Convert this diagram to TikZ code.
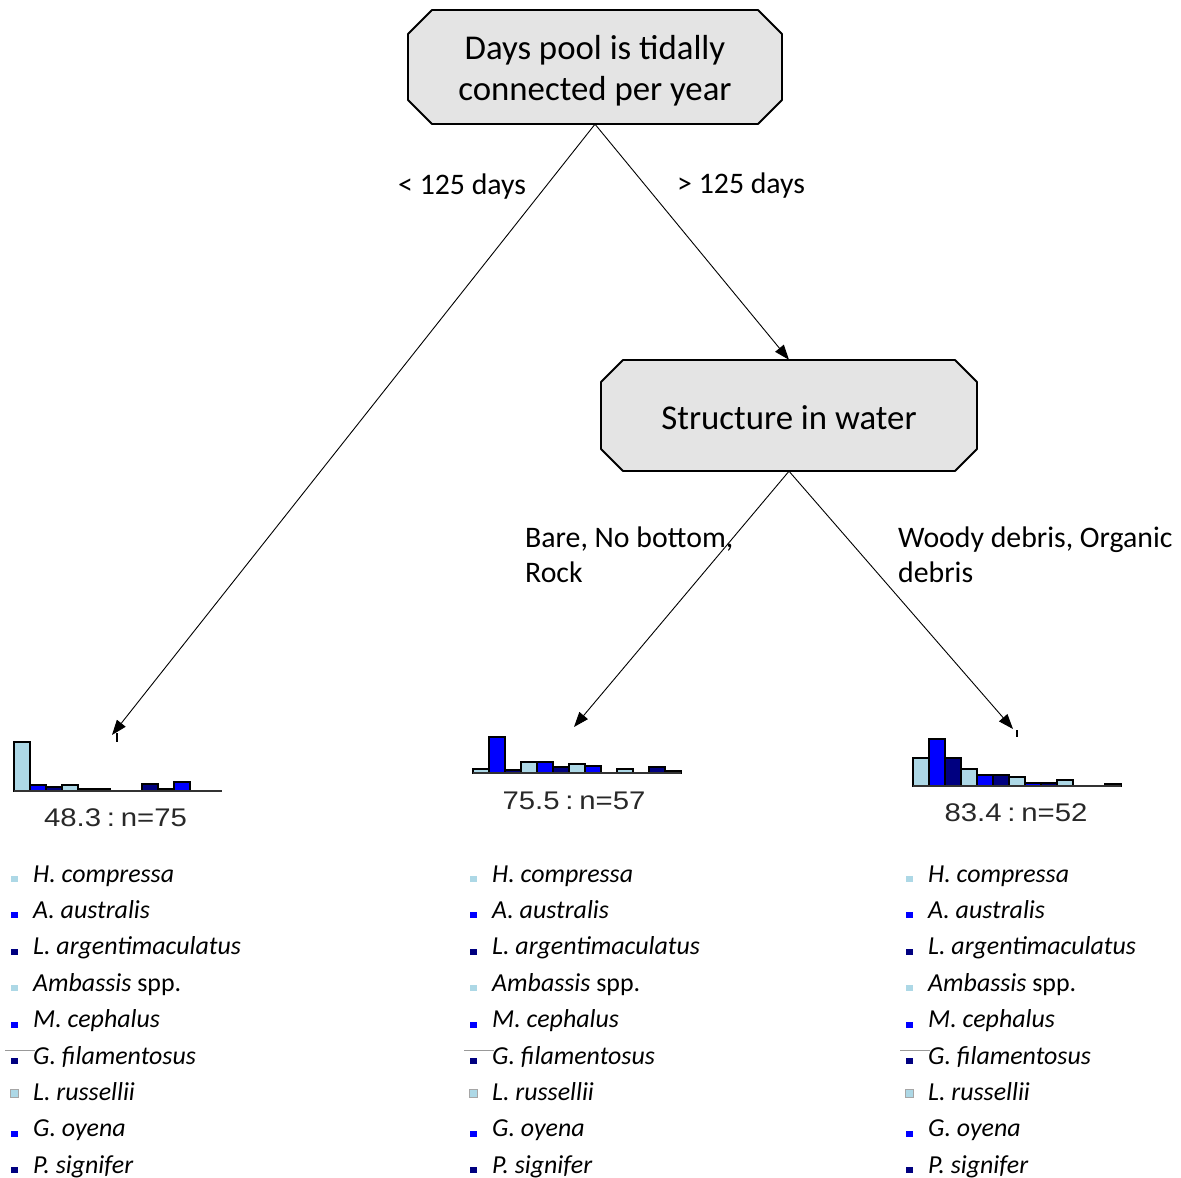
\documentclass[tikz,border=0pt]{standalone}
\usepackage{fontspec}
\usepackage{graphicx}
\setmainfont{Carlito}
\newfontfamily\histfont{Liberation Sans}
\usetikzlibrary{arrows.meta,calc}

\definecolor{lb}{RGB}{173,216,230}
\definecolor{bl}{RGB}{0,0,255}
\definecolor{nv}{RGB}{0,0,128}
\definecolor{boxfill}{RGB}{228,228,228}
\definecolor{histtext}{RGB}{40,40,40}

\tikzset{
  splitlabel/.style={font=\fontsize{34.8}{41}\selectfont, align=center, inner sep=0pt},
  splitframe/.style={inner sep=0pt},
  branch/.style={line width=0.9pt, -{Triangle[length=15pt,width=11pt]}},
  edgetext/.style={font=\fontsize{29.8}{35}\selectfont, anchor=base west, align=left, inner sep=0pt},
  legtext/.style={font=\fontsize{25.9}{30}\selectfont\itshape, anchor=base west, inner sep=0pt},
  histlabel/.style={font=\histfont\fontsize{25.5}{30}\selectfont, text=histtext, anchor=base, inner sep=0pt},
  bar/.style={draw=black, line width=1.2pt},
  octo/.style={fill=boxfill, draw=black, line width=1.8pt, line join=round},
}

% leaf summary text, widened as in the tree output
\newcommand\leafsum[2]{\scalebox{1.15}[1]{#1\hspace{5pt}:\hspace{5pt}n=#2}}

% octagonal split box: x1 y1 x2 y2 chamfer
\newcommand\octagon[5]{%
  \path[octo] (#1+#5,#2) -- (#3-#5,#2) -- (#3,#2+#5) -- (#3,#4-#5)
    -- (#3-#5,#4) -- (#1+#5,#4) -- (#1,#4-#5) -- (#1,#2+#5) -- cycle;}

% histogram: left x, baseline y, list of height/colour
\newcommand\histo[3]{%
  \foreach \h/\col [count=\i from 0] in {#3} {
    \ifdim\h pt>0pt
      \draw[bar, fill=\col] (#1+16*\i,#2) rectangle ++(16,-\h);
    \fi
  }
  \draw[line width=2.6pt, draw=black!80] (#1,#2) -- ++(208,0);
}

% species legend: marker left x, column tag
\newcommand\legendcol[2]{%
  \foreach \t/\col/\mk [count=\r from 0] in {
      {H. compressa}/lb/0, {A. australis}/bl/0, {L. argentimaculatus}/nv/0,
      {Ambassis {\upshape spp.}}/lb/0, {M. cephalus}/bl/0, {G. filamentosus}/nv/0,
      {L. russellii}/lb/1, {G. oyena}/bl/0, {P. signifer}/nv/0} {
    \ifnum\mk=1
      \filldraw[fill=\col, draw=black!35, line width=0.8pt] (#1-1,882+36.4*\r-3) rectangle ++(8,-8);
    \else
      \fill[\col] (#1-0.5,882+36.4*\r) rectangle ++(7.5,-6);
    \fi
    \node[legtext] (leg#2-\r) at (#1+22,882+36.4*\r) {\t};
  }
  \draw[black!40, line width=0.8pt] (#1-6,1050) -- (#1+24,1050);
}

\begin{document}
\begin{tikzpicture}[x=1pt,y=-1pt]
  \useasboundingbox (0,0) rectangle (1181,1178);
  \fill[white] (0,0) rectangle (1181,1178);

  % split boxes
  \octagon{408}{10}{782}{124}{24}
  \node[splitframe, minimum width=374pt, minimum height=114pt] (root) at (595,67) {};
  \node[splitlabel] (rootText) at (595,71) {Days pool is tidally\\connected per year};
  \octagon{601}{360}{977}{471}{22}
  \node[splitframe, minimum width=376pt, minimum height=111pt] (struct) at (789,415.5) {};
  \node[splitlabel] (structText) at (789,418) {Structure in water};

  % leaf histograms
  \histo{14}{791}{49/lb, 6/bl, 4/nv, 6/lb, 2/bl, 2/nv, 0/lb, 0/bl, 7/nv, 2/lb, 9/bl, 0/nv, 0/lb}
  \histo{473}{773}{4/lb, 36/bl, 3/nv, 11/lb, 11/bl, 6/nv, 9/lb, 7/bl, 0/nv, 4/lb, 0/bl, 6/nv, 2/lb}
  \histo{913}{786}{28/lb, 47/bl, 28/nv, 17/lb, 11/bl, 11/nv, 9/lb, 3/bl, 3/nv, 6/lb, 0/bl, 0/nv, 2/lb}

  \node[histlabel] (leafA) at (115.5,826) {\leafsum{48.3}{75}};
  \node[histlabel] (leafB) at (574,809) {\leafsum{75.5}{57}};
  \node[histlabel] (leafC) at (1016,821) {\leafsum{83.4}{52}};

  % arrow targets above the leaves
  \coordinate (tA) at (112,735);
  \coordinate (tB) at (574,727);
  \coordinate (tC) at (1013,729);
  \draw[line width=1.2pt] (117,733) -- (117,742);
  \draw[line width=1.2pt] (1017,730) -- (1017,737);

  % branches
  \draw[branch] (root.south) -- (tA);
  \draw[branch] (root.south) -- (struct.north);
  \draw[branch] (struct.south) -- (tB);
  \draw[branch] (struct.south) -- (tC);

  % branch labels
  \node[edgetext] (eA) at (398,194) {< 125 days};
  \node[edgetext] (eB) at (677,193) {> 125 days};
  \node[edgetext] (eC) at (525,582) {Bare, No bottom,\\Rock};
  \node[edgetext] (eD) at (898,582) {Woody debris, Organic\\debris};

  % legends
  \legendcol{11}{A}
  \legendcol{470}{B}
  \legendcol{906}{C}
\end{tikzpicture}
\end{document}
